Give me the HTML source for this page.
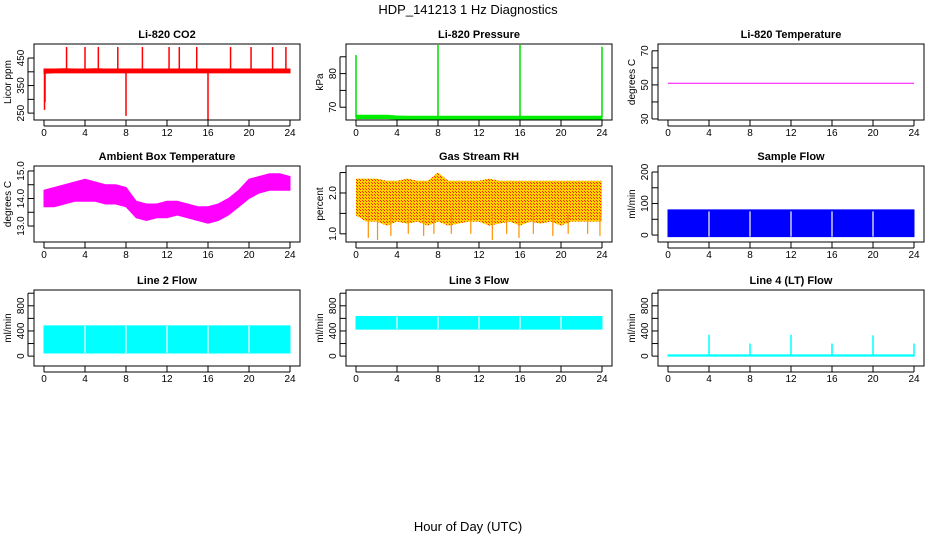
<!DOCTYPE html>
<html><head><meta charset="utf-8"><style>
body{margin:0;background:#fff}
svg text{font-family:"Liberation Sans",sans-serif}
</style></head><body>
<svg id="c" width="936" height="540" xmlns="http://www.w3.org/2000/svg">
<defs>
<pattern id="rh" width="3" height="3" patternUnits="userSpaceOnUse"><rect width="3" height="3" fill="#ffd000"/><rect width="1" height="1" fill="#ff2000"/><rect x="2" y="2" width="1" height="1" fill="#ff3000"/></pattern>
</defs>
<text x="468" y="14" font-size="13" text-anchor="middle">HDP_141213  1 Hz Diagnostics</text>
<text x="468" y="531" font-size="13" text-anchor="middle">Hour of Day (UTC)</text>
</svg>
<script>
const hours=[0,1,2,3,4,5,6,7,8,9,10,11,12,13,14,15,16,17,18,19,20,21,22,23,24];
const xTicks=[0,4,8,12,16,20,24];
// CO2
const co2Lo=[395,396,396,396,396,396,396,396,396,396,396,396,396,396,396,396,396,396,396,396,396,396,396,396,396];
const co2Hi=[410,410,411,410,410,411,410,410,410,410,410,410,410,410,410,410,410,410,410,410,410,410,410,410,410];
const co2SpikeT=[0.05,2.2,4.0,5.3,7.2,8.0,9.6,12.2,13.2,14.9,16.0,18.2,20.2,22.3,23.6,0.1];
const co2SpikeV=[262,490,490,490,490,240,490,490,490,490,225,490,490,490,490,290];
// Pressure
const prLo=[66.6,66.6,66.6,66.6,66.5,66.5,66.5,66.5,66.5,66.5,66.5,66.5,66.5,66.5,66.5,66.5,66.5,66.5,66.5,66.5,66.5,66.5,66.5,66.5,66.5];
const prHi=[67.6,67.6,67.6,67.6,67.4,67.3,67.3,67.3,67.3,67.3,67.3,67.3,67.3,67.3,67.3,67.3,67.3,67.3,67.3,67.3,67.3,67.3,67.3,67.3,67.3];
const prSpikeT=[0.0,8.0,16.0,24.0];
const prSpikeV=[85.5,88.5,88.5,88.0];
// Li-820 temperature
const tempV=[51,51,51,51,51,51,51,51,51,51,51,51,51,51,51,51,51,51,51,51,51,51,51,51,51];
// Ambient
const ambLo=[13.7,13.7,13.8,13.9,13.9,13.9,13.8,13.8,13.7,13.3,13.2,13.3,13.3,13.4,13.3,13.2,13.1,13.2,13.4,13.7,14.0,14.2,14.3,14.3,14.3];
const ambHi=[14.3,14.4,14.5,14.6,14.7,14.6,14.5,14.5,14.4,13.9,13.8,13.8,13.9,13.9,13.8,13.7,13.7,13.8,14.0,14.3,14.7,14.8,14.9,14.9,14.8];
// RH
const rhLo=[1.45,1.3,1.3,1.2,1.3,1.25,1.3,1.2,1.3,1.2,1.25,1.3,1.3,1.2,1.25,1.3,1.2,1.3,1.25,1.3,1.2,1.3,1.3,1.3,1.3];
const rhHi=[2.35,2.35,2.35,2.3,2.3,2.35,2.3,2.3,2.5,2.3,2.3,2.3,2.3,2.35,2.3,2.3,2.3,2.3,2.3,2.3,2.3,2.3,2.3,2.3,2.3];
const rhDipT=[1.2,2.1,3.4,5.1,6.6,7.6,9.3,11.2,13.3,14.7,15.9,17.3,19.2,20.7,22.6,23.8];
const rhDipV=[0.9,0.85,0.95,1.0,0.95,1.0,1.0,1.0,0.85,1.0,0.9,1.0,0.95,1.0,1.0,0.95];
// Flows
const sfLo=[-5,-5,-5,-5,-5,-5,-5,-5,-5,-5,-5,-5,-5,-5,-5,-5,-5,-5,-5,-5,-5,-5,-5,-5,-5];
const sfHi=[80,80,80,80,80,80,80,80,80,80,80,80,80,80,80,80,80,80,80,80,80,80,80,80,80];
const gapT=[4,8,12,16,20];
const l2Lo=[50,50,50,50,50,50,50,50,50,50,50,50,50,50,50,50,50,50,50,50,50,50,50,50,50];
const l2Hi=[480,480,480,480,480,480,480,480,480,480,480,480,480,480,480,480,480,480,480,480,480,480,480,480,480];
const l3Lo=[430,430,430,430,430,430,430,430,430,430,430,430,430,430,430,430,430,430,430,430,430,430,430,430,430];
const l3Hi=[630,630,630,630,630,630,630,630,630,630,630,630,630,630,630,630,630,630,630,630,630,630,630,630,630];
const l4Lo=[0,0,0,0,0,0,0,0,0,0,0,0,0,0,0,0,0,0,0,0,0,0,0,0,0];
const l4Hi=[20,20,20,20,20,20,20,20,20,20,20,20,20,20,20,20,20,20,20,20,20,20,20,20,20];
const l4SpikeT=[4,8,12,16,20,24];
const l4SpikeV=[340,200,340,200,330,200];

const svg=document.getElementById('c');
const NS='http://www.w3.org/2000/svg';
function mk(t,a,p){const e=document.createElementNS(NS,t);for(const k in a)e.setAttribute(k,a[k]);(p||svg).appendChild(e);return e;}
const colX=[34,346,658],rowY=[44,166,290],W=266,H=76;
function panel(c,r,name,title,ylab,ymin,ymax,ticks,labs){
  const g=mk('g',{});
  
  
  const x0=colX[c],y0=rowY[r];
  const sx=h=>x0+10+h*(W-20)/24;
  const sy=v=>y0+H-(v-ymin)/(ymax-ymin)*H;
  const t=mk('text',{x:x0+W/2,y:y0-6,'font-size':11,'font-weight':'bold','text-anchor':'middle'},g);t.textContent=title;
  
  
  const ax=mk('g',{stroke:'#000','stroke-width':1},g);
  xTicks.forEach(h=>{mk('line',{x1:sx(h),x2:sx(h),y1:y0+H,y2:y0+H+6},ax);
    const l=mk('text',{x:sx(h),y:y0+H+16,'font-size':10,'text-anchor':'middle',stroke:'none'},g);l.textContent=h;});
  mk('line',{x1:sx(0),x2:sx(24),y1:y0+H+6,y2:y0+H+6},ax);
  ticks.forEach((v,i)=>{mk('line',{x1:x0,x2:x0-6,y1:sy(v),y2:sy(v)},ax);
    if(labs[i]!==''){const l=mk('text',{x:0,y:0,'font-size':10,'text-anchor':'middle',transform:`translate(${x0-10},${sy(v)}) rotate(-90)`},g);l.textContent=labs[i];}});
  mk('line',{x1:x0-6,x2:x0-6,y1:sy(ticks[0]),y2:sy(ticks[ticks.length-1])},ax);
  const yl=mk('text',{x:0,y:0,'font-size':10,'text-anchor':'middle',transform:`translate(${x0-23},${y0+H/2}) rotate(-90)`},g);yl.textContent=ylab;
  
  
  const plot=mk('g',{},g);
  mk('rect',{x:x0,y:y0,width:W,height:H,fill:'none',stroke:'#000'},g);
  return {sx,sy,plot};
}
function band(p,lo,hi,fill){
  let d='';
  hours.forEach((h,i)=>{d+=(i?'L':'M')+p.sx(h)+','+p.sy(hi[i]);});
  for(let i=hours.length-1;i>=0;i--){d+='L'+p.sx(hours[i])+','+p.sy(lo[i]);}
  d+='Z';
  const r=mk('path',{d,fill,stroke:fill==='url(#rh)'?'none':fill,'stroke-width':1},p.plot);
  
  
}
function spikes(p,ts,vs,base,col,w){
  ts.forEach((t,i)=>{const l=mk('line',{x1:p.sx(t),x2:p.sx(t),y1:p.sy(base),y2:p.sy(vs[i]),stroke:col,'stroke-width':w||1.5},p.plot);
    
    });
}
function gaps(p,ts,lo,hi){ts.forEach(t=>{mk('line',{x1:p.sx(t),x2:p.sx(t),y1:p.sy(hi),y2:p.sy(lo),stroke:'#fff','stroke-width':1.2},p.plot);});}

let p=panel(0,0,'co2-panel','Li-820 CO2','Licor ppm',225,501,[250,300,350,400,450],['250','','350','','450']);
band(p,co2Lo,co2Hi,'#ff0000');spikes(p,co2SpikeT,co2SpikeV,403,'#ff0000',1.5);
p=panel(1,0,'pressure-panel','Li-820 Pressure','kPa',66.2,88.8,[70,75,80,85],['70','','80','']);
band(p,prLo,prHi,'#00ee00');spikes(p,prSpikeT,prSpikeV,67,'#00dd00',1.5);
p=panel(2,0,'temperature-panel','Li-820 Temperature','degrees C',29.4,74,[30,40,50,60,70],['30','','50','','70']);
{let d='';hours.forEach((h,i)=>{d+=(i?'L':'M')+p.sx(h)+','+p.sy(tempV[i]);});const l=mk('path',{d,stroke:'#ff00ff',fill:'none','stroke-width':1},p.plot);}
p=panel(0,1,'ambient-panel','Ambient Box Temperature','degrees C',12.42,15.18,[13,13.5,14,14.5,15],['13.0','','14.0','','15.0']);
band(p,ambLo,ambHi,'#ff00ff');
p=panel(1,1,'rh-panel','Gas Stream RH','percent',0.8,2.66,[1,1.5,2,2.5],['1.0','','2.0','']);
band(p,rhLo,rhHi,'url(#rh)');spikes(p,rhDipT,rhDipV,1.5,'#ff9000',1.2);
p=panel(2,1,'sample-flow-panel','Sample Flow','ml/min',-22,219,[0,50,100,150,200],['0','','100','','200']);
band(p,sfLo,sfHi,'#0000ff');gaps(p,gapT,-5,75);
p=panel(0,2,'line2-panel','Line 2 Flow','ml/min',-157,1051,[0,200,400,600,800,1000],['0','','400','','800','']);
band(p,l2Lo,l2Hi,'#00ffff');gaps(p,gapT,50,480);
p=panel(1,2,'line3-panel','Line 3 Flow','ml/min',-157,1051,[0,200,400,600,800,1000],['0','','400','','800','']);
band(p,l3Lo,l3Hi,'#00ffff');gaps(p,gapT,430,630);
p=panel(2,2,'line4-panel','Line 4 (LT) Flow','ml/min',-157,1051,[0,200,400,600,800,1000],['0','','400','','800','']);
band(p,l4Lo,l4Hi,'#00ffff');spikes(p,l4SpikeT,l4SpikeV,0,'#00ffff',1.5);
</script>
</body></html>
